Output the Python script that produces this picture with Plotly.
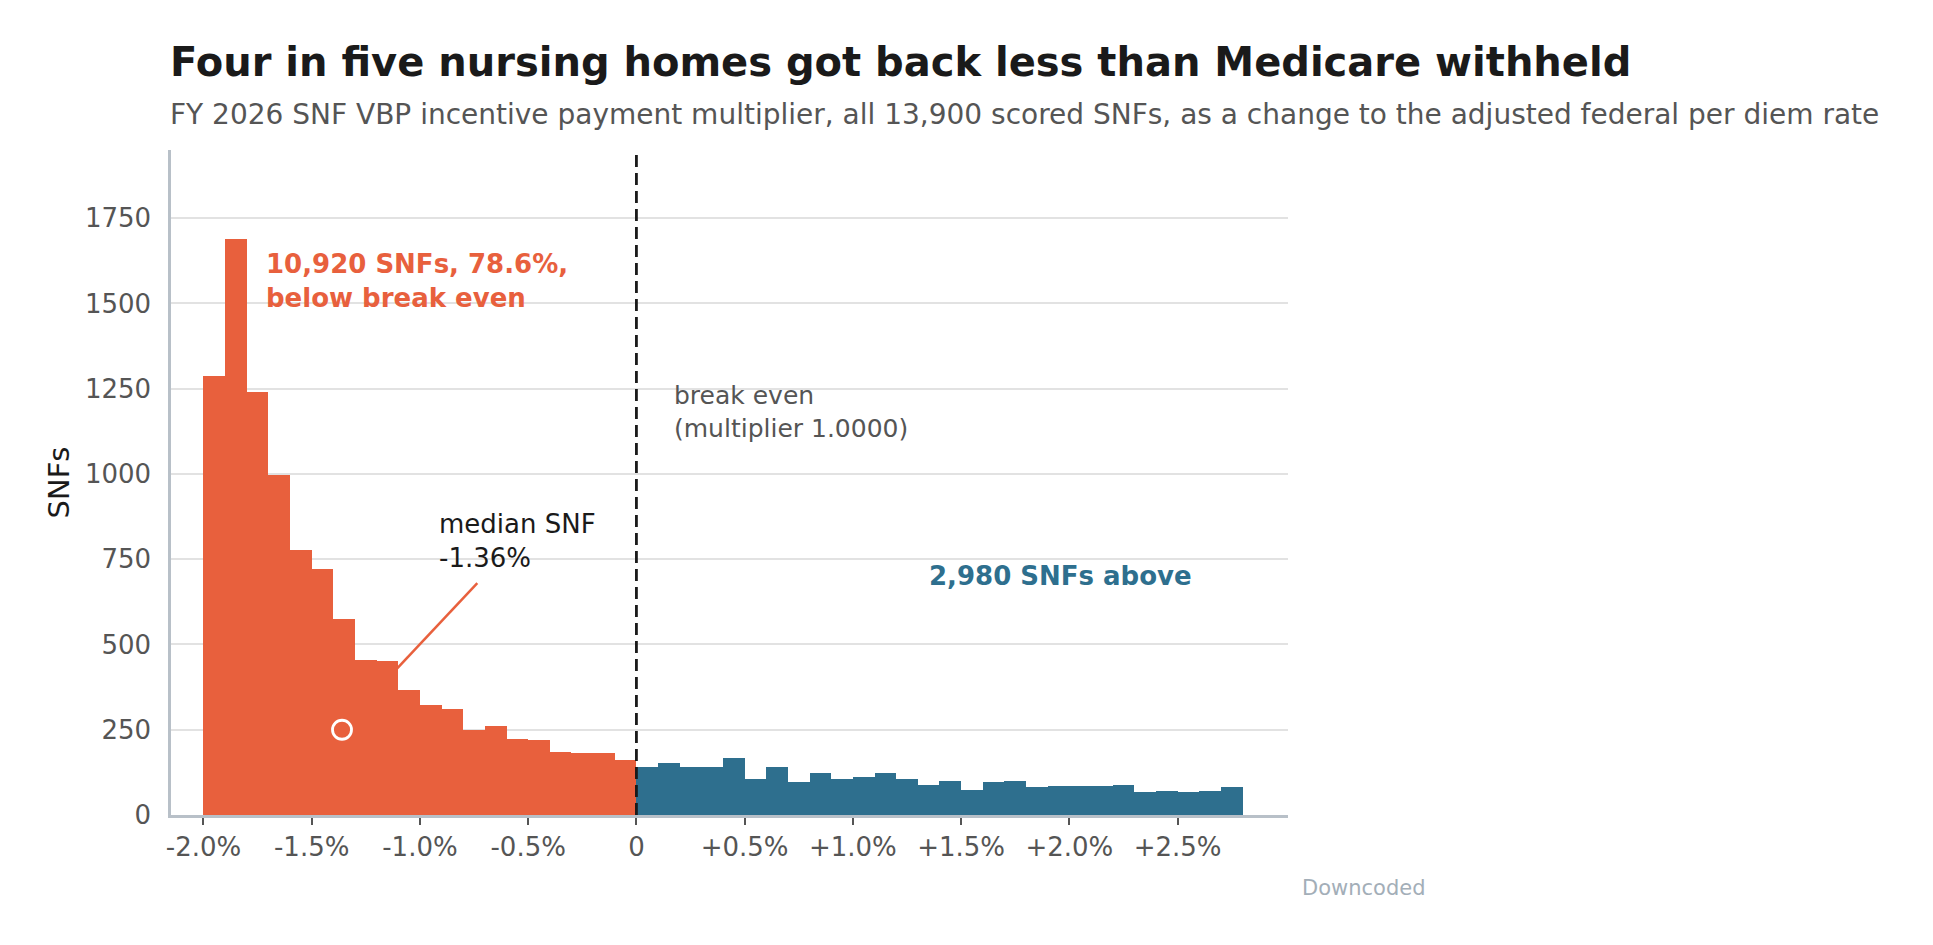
import plotly.graph_objects as go

# ============================================================
# DATA
# ============================================================

BIN_WIDTH = 0.1  # percentage points

below_counts = [1287, 1688, 1241, 998, 777, 722, 575, 455, 452, 368,
                322, 311, 249, 261, 223, 220, 186, 183, 183, 161]
above_counts = [140, 152, 140, 140, 167, 107, 140, 98, 122, 107,
                110, 122, 107, 89, 101, 74, 98, 101, 83, 86,
                86, 86, 89, 68, 71, 68, 71, 83]

tick_vals = [-2.0, -1.5, -1.0, -0.5, 0, 0.5, 1.0, 1.5, 2.0, 2.5]
tick_text = ["-2.0%", "-1.5%", "-1.0%", "-0.5%", "0",
             "+0.5%", "+1.0%", "+1.5%", "+2.0%", "+2.5%"]

median_x = -1.36
median_y = 250

ORANGE = "#E8603D"
BLUE = "#2E6F8E"
FONT = "DejaVu Sans"

# ============================================================
# FIGURE
# ============================================================

fig = go.Figure()

fig.add_trace(go.Bar(
    x0=-2.0 + BIN_WIDTH / 2, dx=BIN_WIDTH, y=below_counts,
    width=BIN_WIDTH, marker_color=ORANGE, marker_line_width=0,
    hoverinfo="skip"
))
fig.add_trace(go.Bar(
    x0=BIN_WIDTH / 2, dx=BIN_WIDTH, y=above_counts,
    width=BIN_WIDTH, marker_color=BLUE, marker_line_width=0,
    hoverinfo="skip"
))

# median marker
fig.add_trace(go.Scatter(
    x=[median_x], y=[median_y], mode="markers",
    marker=dict(symbol="circle-open", size=19, color="white",
                line=dict(width=2.8, color="white")),
    hoverinfo="skip"
))

# break-even line
fig.add_shape(type="line", x0=0, x1=0, y0=0, y1=1, xref="x", yref="paper",
              line=dict(color="#1a1a1a", width=2.8, dash="12px,6px"))

# leader line for the median label
fig.add_shape(type="line", x0=-0.735, y0=680, x1=-1.105, y1=430,
              xref="x", yref="y", line=dict(color=ORANGE, width=2.5))

fig.add_annotation(x=-1.72, y=1565, xanchor="left", yanchor="middle",
                   text="<b>10,920 SNFs, 78.6%,<br>below break even</b>",
                   showarrow=False, align="left",
                   font=dict(family=FONT, size=26, color=ORANGE))
fig.add_annotation(x=0.165, y=1182, xanchor="left", yanchor="middle",
                   text="break even<br>(multiplier 1.0000)",
                   showarrow=False, align="left",
                   font=dict(family=FONT, size=25, color="#555555"))
fig.add_annotation(x=-0.923, y=803, xanchor="left", yanchor="middle",
                   text="median SNF<br>-1.36%",
                   showarrow=False, align="left",
                   font=dict(family=FONT, size=26, color="#1a1a1a"))
fig.add_annotation(x=1.96, y=701, xanchor="center", yanchor="middle",
                   text="<b>2,980 SNFs above</b>",
                   showarrow=False,
                   font=dict(family=FONT, size=26, color=BLUE))

# titles
fig.add_annotation(x=-0.003, y=1.133, xref="paper", yref="paper", yanchor="middle",
                   xanchor="left", showarrow=False,
                   text="<b>Four in five nursing homes got back less than Medicare withheld</b>",
                   font=dict(family=FONT, size=40, color="#1a1a1a"))
fig.add_annotation(x=-0.003, y=1.053, xref="paper", yref="paper", yanchor="middle",
                   xanchor="left", showarrow=False,
                   text="FY 2026 SNF VBP incentive payment multiplier, all 13,900 scored SNFs, "
                        "as a change to the adjusted federal per diem rate",
                   font=dict(family=FONT, size=28, color="#555555"))
fig.add_annotation(x=1.011, y=-0.11, xref="paper", yref="paper", yanchor="middle",
                   xanchor="left", showarrow=False, text="Downcoded",
                   font=dict(family=FONT, size=21, color="#A3AEB8"))

fig.update_layout(
    width=1933, height=945,
    margin=dict(l=163, r=653, t=142, b=138),
    paper_bgcolor="white", plot_bgcolor="white",
    showlegend=False, barmode="overlay", bargap=0,
    font=dict(family=FONT, size=26, color="#555555"),
)
fig.update_xaxes(
    range=[-2.15, 3.01], tickvals=tick_vals, ticktext=tick_text,
    showgrid=False, zeroline=False,
    showline=True, linecolor="#B8C0C8", linewidth=2.5,
    ticks="outside", ticklen=7, tickwidth=2, tickcolor="#555555",
    tickfont=dict(family=FONT, size=26, color="#555555"),
)
fig.update_yaxes(
    range=[0, 1950], tickvals=[0, 250, 500, 750, 1000, 1250, 1500, 1750],
    showgrid=True, gridcolor="#E2E2E2", gridwidth=1.5, zeroline=False,
    showline=True, linecolor="#B8C0C8", linewidth=2.5,
    ticks="", ticklabelstandoff=12,
    title=dict(text="SNFs", font=dict(family=FONT, size=29, color="#1a1a1a"), standoff=7),
    tickfont=dict(family=FONT, size=26, color="#555555"),
)

fig.write_html("out.html")
